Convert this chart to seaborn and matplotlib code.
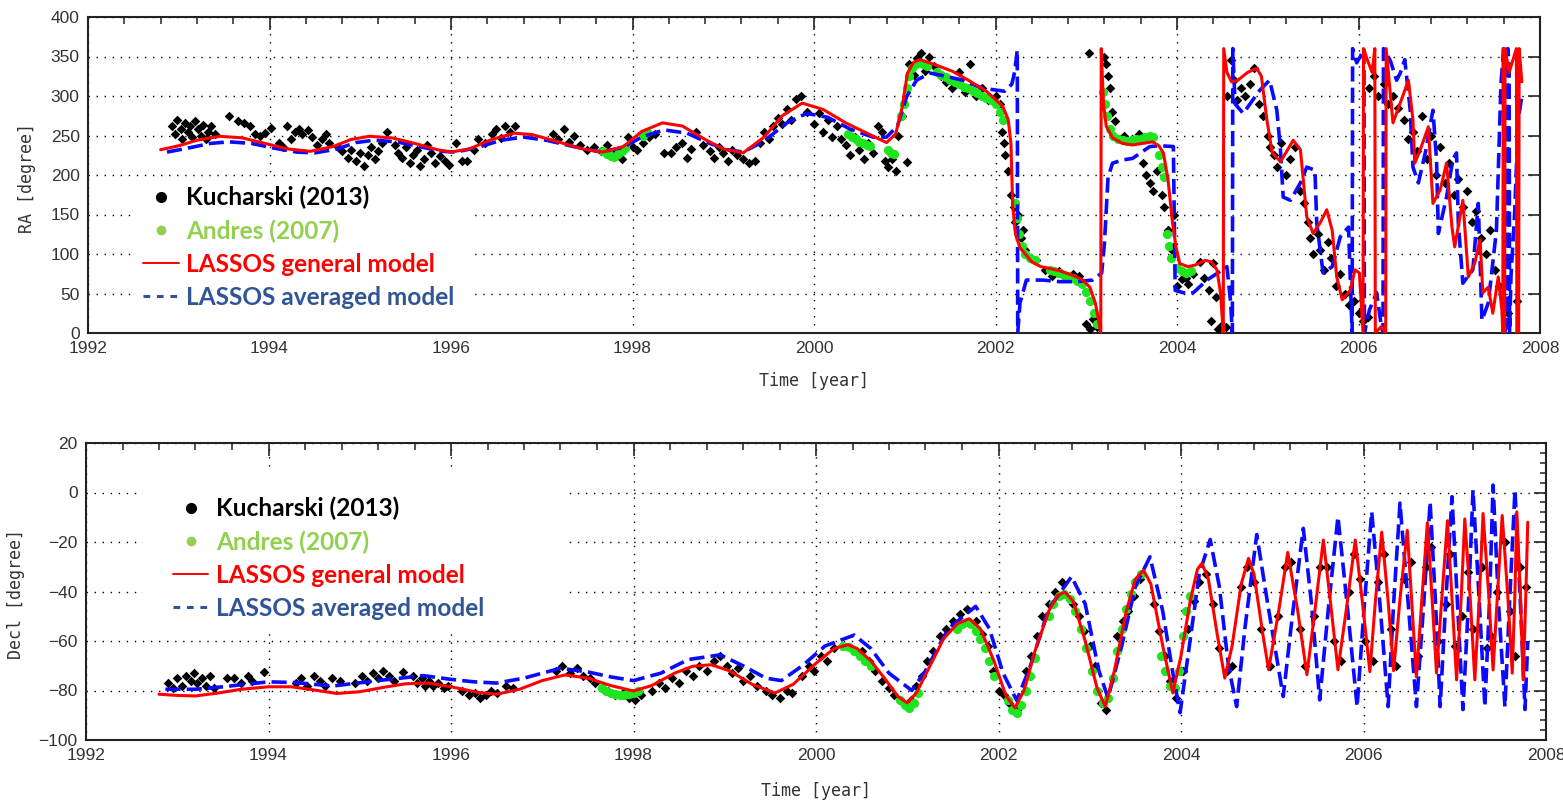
import seaborn as sns
import matplotlib.pyplot as plt
import matplotlib.ticker as mtick
from matplotlib.lines import Line2D
from matplotlib.patches import Rectangle
import pandas as pd

# ---- RA panel ----
ra_general = [
    (1992.80, 232), (1993.00, 237), (1993.20, 244), (1993.45, 249), (1993.70, 247), (1993.95, 240),
    (1994.20, 233), (1994.45, 230), (1994.70, 236), (1994.90, 245), (1995.10, 249), (1995.35, 247),
    (1995.60, 240), (1995.85, 232), (1996.00, 229), (1996.20, 233), (1996.45, 245), (1996.70, 253),
    (1996.90, 251), (1997.15, 243), (1997.45, 233), (1997.67, 229), (1997.90, 236), (1998.10, 255),
    (1998.33, 266), (1998.55, 262), (1998.80, 245), (1999.00, 233), (1999.22, 228), (1999.45, 248),
    (1999.65, 275), (1999.87, 291), (2000.10, 283), (2000.35, 266), (2000.60, 252), (2000.80, 241),
    (2000.90, 252), (2000.97, 285), (2001.03, 329), (2001.10, 343), (2001.17, 346), (2001.35, 339),
    (2001.53, 331), (2001.70, 320), (2001.90, 306), (2002.08, 287), (2002.14, 270), (2002.17, 240),
    (2002.19, 160), (2002.22, 125), (2002.27, 108), (2002.40, 90), (2002.50, 84), (2002.70, 79),
    (2002.85, 73), (2002.95, 68), (2003.04, 58), (2003.10, 38), (2003.13, 20), (2003.16, 0),
    (2003.165, 360), (2003.19, 290), (2003.22, 262), (2003.29, 247), (2003.40, 240), (2003.51, 238),
    (2003.62, 240), (2003.73, 242), (2003.80, 237), (2003.85, 228), (2003.90, 195), (2003.95, 140),
    (2003.99, 108), (2004.03, 88), (2004.12, 84), (2004.20, 86), (2004.31, 92), (2004.38, 90),
    (2004.44, 80), (2004.48, 50), (2004.51, 0), (2004.515, 360), (2004.55, 330), (2004.60, 318),
    (2004.67, 320), (2004.78, 330), (2004.88, 335), (2004.93, 325), (2004.99, 270), (2005.05, 228),
    (2005.14, 217), (2005.22, 232), (2005.28, 244), (2005.36, 232), (2005.43, 147), (2005.50, 126),
    (2005.58, 140), (2005.65, 156), (2005.71, 130), (2005.76, 71), (2005.82, 42), (2005.91, 54),
    (2005.96, 80), (2006.01, 76), (2006.05, 0), (2006.055, 360), (2006.10, 345), (2006.15, 330),
    (2006.18, 360), (2006.185, 0), (2006.25, 8), (2006.30, 0), (2006.305, 360), (2006.35, 303),
    (2006.38, 266), (2006.46, 291), (2006.55, 320), (2006.60, 270), (2006.62, 215), (2006.68, 232),
    (2006.77, 261), (2006.82, 164), (2006.90, 181), (2006.97, 215), (2007.03, 134), (2007.06, 109),
    (2007.15, 168), (2007.21, 71), (2007.28, 88), (2007.34, 118), (2007.37, 51), (2007.43, 58),
    (2007.48, 25), (2007.54, 71), (2007.58, 29), (2007.59, 0), (2007.595, 360), (2007.61, 0),
    (2007.615, 360), (2007.66, 330), (2007.70, 345), (2007.74, 360), (2007.745, 0), (2007.765, 0),
    (2007.77, 360), (2007.80, 318),
]

ra_averaged = [
    (1992.87, 229), (1993.10, 234), (1993.35, 240), (1993.55, 242), (1993.80, 240), (1994.05, 234),
    (1994.30, 229), (1994.50, 228), (1994.75, 233), (1994.95, 241), (1995.15, 244), (1995.40, 242),
    (1995.65, 236), (1995.90, 230), (1996.05, 229), (1996.30, 235), (1996.55, 244), (1996.80, 248),
    (1997.05, 244), (1997.35, 236), (1997.65, 229), (1997.90, 235), (1998.10, 248), (1998.35, 257),
    (1998.60, 253), (1998.85, 240), (1999.05, 232), (1999.22, 229), (1999.45, 243), (1999.70, 266),
    (1999.92, 278), (2000.15, 273), (2000.40, 258), (2000.65, 248), (2000.80, 248), (2000.92, 262),
    (2001.02, 299), (2001.13, 320), (2001.28, 329), (2001.45, 325), (2001.64, 320), (2001.85, 310),
    (2002.10, 306), (2002.18, 315), (2002.21, 330), (2002.24, 358), (2002.245, 0), (2002.27, 38),
    (2002.34, 67), (2002.52, 67), (2002.70, 65), (2002.90, 65), (2003.07, 67), (2003.17, 76),
    (2003.20, 113), (2003.24, 197), (2003.29, 215), (2003.40, 219), (2003.51, 221), (2003.70, 236),
    (2003.81, 237), (2003.96, 236), (2003.98, 54), (2004.10, 50), (2004.18, 51), (2004.33, 67),
    (2004.45, 76), (2004.55, 84), (2004.59, 40), (2004.61, 0), (2004.615, 360), (2004.64, 290),
    (2004.73, 278), (2004.91, 307), (2005.02, 320), (2005.10, 282), (2005.14, 232), (2005.17, 172),
    (2005.25, 168), (2005.36, 190), (2005.43, 210), (2005.52, 206), (2005.54, 139), (2005.61, 76),
    (2005.71, 84), (2005.80, 122), (2005.89, 134), (2005.93, 0), (2005.935, 360), (2005.98, 342),
    (2006.02, 350), (2006.06, 360), (2006.065, 0), (2006.12, 29), (2006.20, 51), (2006.25, 10),
    (2006.27, 0), (2006.275, 360), (2006.35, 345), (2006.42, 320), (2006.46, 329), (2006.51, 346),
    (2006.57, 282), (2006.60, 210), (2006.66, 190), (2006.74, 230), (2006.82, 282), (2006.86, 219),
    (2006.88, 126), (2006.97, 172), (2007.04, 220), (2007.08, 228), (2007.10, 139), (2007.15, 63),
    (2007.26, 80), (2007.32, 164), (2007.36, 16), (2007.43, 38), (2007.52, 130), (2007.57, 316),
    (2007.60, 360), (2007.605, 0), (2007.64, 10), (2007.645, 360), (2007.66, 340), (2007.665, 0),
    (2007.68, 71), (2007.72, 150), (2007.76, 270), (2007.80, 300),
]

ra_kucharski = [
    (1992.93, 262), (1992.96, 252), (1992.98, 270), (1993.02, 258), (1993.04, 245), (1993.07, 266),
    (1993.10, 255), (1993.12, 262), (1993.15, 248), (1993.18, 268), (1993.21, 258), (1993.24, 250),
    (1993.27, 263), (1993.30, 245), (1993.32, 255), (1993.36, 262), (1993.40, 252), (1993.55, 275),
    (1993.65, 268), (1993.72, 266), (1993.78, 262), (1993.84, 252), (1993.90, 250), (1993.95, 253),
    (1994.02, 260), (1994.10, 240), (1994.15, 235), (1994.19, 262), (1994.24, 245), (1994.28, 255),
    (1994.32, 258), (1994.36, 252), (1994.42, 257), (1994.47, 248), (1994.52, 238), (1994.58, 245),
    (1994.62, 252), (1994.66, 240), (1994.75, 235), (1994.80, 230), (1994.86, 222), (1994.90, 232),
    (1994.95, 218), (1995.00, 228), (1995.04, 212), (1995.08, 225), (1995.12, 235), (1995.16, 220),
    (1995.20, 230), (1995.24, 240), (1995.30, 254), (1995.38, 238), (1995.42, 228), (1995.46, 222),
    (1995.50, 235), (1995.55, 215), (1995.58, 225), (1995.62, 232), (1995.66, 212), (1995.70, 220),
    (1995.74, 238), (1995.78, 228), (1995.82, 215), (1995.88, 224), (1995.93, 218), (1995.98, 213),
    (1996.05, 240), (1996.12, 218), (1996.18, 218), (1996.25, 232), (1996.30, 245), (1996.38, 240),
    (1996.45, 252), (1996.50, 258), (1996.55, 247), (1996.60, 262), (1996.65, 255), (1996.70, 262),
    (1997.12, 252), (1997.18, 246), (1997.25, 258), (1997.30, 242), (1997.36, 250), (1997.42, 238),
    (1997.50, 232), (1997.58, 235), (1997.65, 230), (1997.72, 238), (1997.80, 226), (1997.88, 220),
    (1997.95, 248), (1998.00, 235), (1998.05, 232), (1998.12, 240), (1998.18, 248), (1998.25, 252),
    (1998.35, 228), (1998.42, 228), (1998.48, 235), (1998.55, 240), (1998.60, 222), (1998.65, 233),
    (1998.70, 255), (1998.78, 238), (1998.85, 230), (1998.90, 222), (1998.95, 235), (1999.00, 228),
    (1999.05, 218), (1999.10, 232), (1999.15, 225), (1999.22, 220), (1999.28, 215), (1999.35, 218),
    (1999.40, 240), (1999.45, 255), (1999.50, 245), (1999.55, 262), (1999.60, 272), (1999.65, 265),
    (1999.70, 283), (1999.75, 270), (1999.80, 296), (1999.86, 300), (1999.92, 280), (2000.00, 265),
    (2000.05, 278), (2000.10, 255), (2000.15, 270), (2000.20, 248), (2000.25, 262), (2000.30, 245),
    (2000.35, 238), (2000.40, 225), (2000.45, 248), (2000.50, 232), (2000.55, 220), (2000.60, 240),
    (2000.65, 228), (2000.70, 262), (2000.75, 255), (2000.78, 218), (2000.82, 210), (2000.86, 220),
    (2000.90, 205), (2000.93, 250), (2000.97, 275), (2001.02, 217), (2001.05, 340), (2001.10, 326),
    (2001.14, 348), (2001.18, 355), (2001.22, 332), (2001.27, 350), (2001.32, 338), (2001.40, 325),
    (2001.46, 318), (2001.52, 310), (2001.60, 330), (2001.66, 305), (2001.72, 340), (2001.78, 300),
    (2001.85, 310), (2001.92, 295), (2002.00, 300), (2002.05, 290), (2002.07, 255), (2002.09, 240),
    (2002.11, 225), (2002.14, 205), (2002.17, 175), (2002.20, 160), (2002.22, 140), (2002.25, 150),
    (2002.28, 120), (2002.30, 130), (2002.33, 105), (2002.38, 95), (2002.45, 92), (2002.55, 80),
    (2002.62, 72), (2002.70, 78), (2002.78, 70), (2002.85, 75), (2002.92, 72), (2003.00, 12),
    (2003.04, 5), (2003.07, 18), (2003.12, 8), (2003.03, 355), (2003.20, 350), (2003.22, 340),
    (2003.24, 325), (2003.26, 310), (2003.28, 280), (2003.32, 268), (2003.42, 250), (2003.50, 245),
    (2003.58, 252), (2003.62, 215), (2003.66, 200), (2003.70, 190), (2003.74, 180), (2003.78, 205),
    (2003.83, 175), (2003.86, 160), (2003.90, 130), (2003.94, 105), (2003.97, 150), (2004.00, 60),
    (2004.05, 68), (2004.10, 70), (2004.12, 62), (2004.18, 75), (2004.25, 90), (2004.30, 70),
    (2004.35, 55), (2004.40, 88), (2004.43, 45), (2004.38, 15), (2004.45, 5), (2004.50, 10),
    (2004.54, 8), (2004.55, 300), (2004.60, 345), (2004.63, 320), (2004.66, 295), (2004.70, 310),
    (2004.75, 300), (2004.80, 315), (2004.85, 335), (2004.90, 290), (2004.95, 275), (2005.00, 250),
    (2005.03, 235), (2005.07, 225), (2005.10, 210), (2005.15, 240), (2005.20, 200), (2005.25, 220),
    (2005.30, 235), (2005.35, 180), (2005.40, 165), (2005.44, 140), (2005.47, 120), (2005.50, 100),
    (2005.55, 125), (2005.58, 105), (2005.62, 80), (2005.66, 115), (2005.70, 95), (2005.75, 60),
    (2005.80, 75), (2005.85, 50), (2005.90, 35), (2005.95, 40), (2006.00, 25), (2006.05, 15),
    (2006.10, 20), (2006.12, 310), (2006.17, 325), (2006.22, 300), (2006.28, 315), (2006.32, 290),
    (2006.38, 300), (2006.44, 285), (2006.50, 270), (2006.55, 245), (2006.60, 255), (2006.65, 230),
    (2006.70, 275), (2006.75, 220), (2006.80, 250), (2006.85, 200), (2006.90, 235), (2006.95, 190),
    (2007.00, 215), (2007.05, 175), (2007.10, 195), (2007.15, 160), (2007.20, 180), (2007.25, 140),
    (2007.30, 155), (2007.35, 120), (2007.40, 100), (2007.45, 130), (2007.50, 80), (2007.55, 60),
    (2007.60, 40), (2007.65, 25), (2007.75, 40),
]

ra_andres = [
    (1997.68, 230), (1997.72, 226), (1997.76, 224), (1997.80, 223), (1997.84, 226), (1997.88, 230),
    (1997.92, 234), (1998.12, 250), (1998.16, 254),
    (2000.38, 252), (2000.42, 248), (2000.46, 245), (2000.50, 242), (2000.54, 240), (2000.58, 238),
    (2000.62, 237), (2000.82, 232), (2000.85, 228), (2000.88, 226),
    (2000.96, 275), (2000.99, 290), (2001.02, 310), (2001.05, 325), (2001.08, 335), (2001.12, 340),
    (2001.16, 342), (2001.20, 340), (2001.24, 338),
    (2001.35, 330), (2001.40, 327), (2001.45, 324), (2001.50, 320), (2001.55, 318), (2001.60, 315),
    (2001.65, 312), (2001.70, 310), (2001.75, 306), (2001.80, 304), (2001.85, 300), (2001.90, 298),
    (2001.95, 295), (2002.00, 290), (2002.05, 280), (2002.08, 270),
    (2002.22, 165), (2002.24, 145), (2002.26, 125), (2002.29, 110), (2002.33, 100), (2002.38, 95),
    (2002.43, 92),
    (2002.60, 80), (2002.65, 78), (2002.70, 76), (2002.75, 74), (2002.80, 72), (2002.85, 70),
    (2002.90, 66), (2002.95, 62), (2003.00, 52), (2003.04, 40), (2003.08, 25), (2003.12, 12),
    (2003.19, 305), (2003.21, 290), (2003.23, 275), (2003.26, 258), (2003.30, 250), (2003.35, 246),
    (2003.40, 244), (2003.45, 243), (2003.50, 244), (2003.55, 245), (2003.60, 246), (2003.65, 248),
    (2003.70, 250), (2003.74, 248),
    (2003.80, 225), (2003.83, 210), (2003.86, 198), (2003.89, 125), (2003.91, 110), (2003.93, 95),
    (2004.00, 82), (2004.05, 78), (2004.10, 76), (2004.15, 78),
]

# ---- Decl panel ----
dec_general = [
    (1992.80, -81.5), (1993.00, -82.0), (1993.20, -82.2), (1993.45, -81.0), (1993.70, -79.5),
    (1994.00, -78.5), (1994.25, -78.5), (1994.50, -79.8), (1994.75, -81.2), (1995.00, -80.5),
    (1995.25, -78.8), (1995.50, -77.3), (1995.75, -77.0), (1996.00, -78.5), (1996.30, -80.8),
    (1996.50, -81.5), (1996.75, -79.5), (1997.00, -76.0), (1997.25, -73.7), (1997.50, -75.0),
    (1997.75, -78.0), (1998.00, -80.2), (1998.20, -78.0), (1998.45, -73.0), (1998.65, -70.2),
    (1998.85, -69.6), (1999.05, -72.0), (1999.30, -77.5), (1999.55, -81.0), (1999.75, -77.5),
    (2000.00, -69.0), (2000.20, -63.0), (2000.35, -61.5), (2000.45, -63.0), (2000.60, -68.0),
    (2000.75, -75.0), (2000.90, -82.5), (2001.00, -85.0), (2001.10, -81.0), (2001.25, -70.0),
    (2001.40, -59.0), (2001.55, -53.0), (2001.68, -51.0), (2001.80, -55.0), (2001.95, -68.0),
    (2002.08, -82.0), (2002.18, -87.0), (2002.28, -80.0), (2002.40, -64.0), (2002.55, -48.0),
    (2002.65, -41.5), (2002.73, -40.3), (2002.82, -44.0), (2002.95, -60.0), (2003.08, -79.0),
    (2003.17, -86.5), (2003.27, -72.0), (2003.40, -48.0), (2003.50, -35.0), (2003.59, -31.4),
    (2003.67, -37.0), (2003.80, -62.0), (2003.91, -81.0), (2004.00, -66.0), (2004.10, -44.0),
    (2004.18, -31.0), (2004.23, -28.6), (2004.30, -35.0), (2004.40, -58.0), (2004.48, -75.0),
    (2004.56, -62.0), (2004.66, -37.0), (2004.74, -26.6), (2004.80, -33.0), (2004.90, -58.0),
    (2004.96, -71.6), (2005.07, -48.0), (2005.17, -24.2), (2005.28, -48.0), (2005.38, -73.6),
    (2005.47, -47.0), (2005.56, -19.2), (2005.64, -45.0), (2005.72, -71.6), (2005.82, -45.0),
    (2005.91, -19.2), (2005.99, -45.0), (2006.07, -72.4), (2006.13, -44.0), (2006.20, -16.0),
    (2006.27, -44.0), (2006.33, -72.0), (2006.40, -43.0), (2006.48, -15.3), (2006.53, -45.0),
    (2006.58, -74.5), (2006.64, -43.0), (2006.70, -12.2), (2006.75, -42.0), (2006.80, -72.9),
    (2006.86, -42.0), (2006.92, -11.4), (2006.97, -43.0), (2007.02, -75.7), (2007.07, -43.0),
    (2007.11, -10.7), (2007.17, -43.0), (2007.22, -75.7), (2007.27, -42.0), (2007.31, -8.5),
    (2007.37, -40.0), (2007.42, -71.7), (2007.47, -40.0), (2007.52, -9.3), (2007.58, -41.0),
    (2007.63, -73.0), (2007.66, -40.0), (2007.68, -7.8), (2007.72, -42.0), (2007.75, -75.7),
    (2007.78, -40.0), (2007.80, -12.0),
]

dec_averaged = [
    (1992.87, -79.5), (1993.20, -79.5), (1993.50, -78.5), (1994.00, -76.5), (1994.30, -76.8),
    (1994.70, -78.2), (1995.20, -76.0), (1995.70, -74.0), (1996.00, -75.5), (1996.25, -76.5),
    (1996.50, -77.0), (1996.80, -75.0), (1997.20, -71.0), (1997.50, -72.5), (1997.75, -74.5),
    (1998.00, -76.0), (1998.30, -73.0), (1998.60, -67.5), (1998.95, -65.6), (1999.20, -70.0),
    (1999.45, -75.0), (1999.62, -76.0), (1999.85, -70.0), (2000.10, -62.0), (2000.42, -57.6),
    (2000.60, -63.0), (2000.80, -73.0), (2001.05, -80.0), (2001.20, -72.0), (2001.45, -55.0),
    (2001.75, -46.0), (2001.90, -55.0), (2002.05, -73.0), (2002.20, -84.0), (2002.35, -70.0),
    (2002.55, -47.0), (2002.80, -34.0), (2002.95, -45.0), (2003.10, -72.0), (2003.20, -83.0),
    (2003.35, -62.0), (2003.50, -38.0), (2003.66, -26.0), (2003.80, -48.0), (2003.92, -75.0),
    (2003.99, -89.0), (2004.08, -65.0), (2004.20, -33.0), (2004.32, -19.0), (2004.42, -38.0),
    (2004.52, -70.0), (2004.61, -86.5), (2004.70, -55.0), (2004.83, -17.0), (2004.95, -45.0),
    (2005.12, -82.4), (2005.22, -50.0), (2005.34, -14.5), (2005.43, -45.0), (2005.52, -83.8),
    (2005.62, -45.0), (2005.72, -9.8), (2005.82, -45.0), (2005.93, -86.5), (2006.01, -45.0),
    (2006.09, -7.8), (2006.18, -45.0), (2006.27, -86.5), (2006.33, -45.0), (2006.40, -4.3),
    (2006.49, -45.0), (2006.58, -86.5), (2006.66, -45.0), (2006.73, -3.8), (2006.79, -45.0),
    (2006.84, -86.5), (2006.90, -45.0), (2006.97, -1.7), (2007.03, -45.0), (2007.09, -87.7),
    (2007.15, -45.0), (2007.20, 1.0), (2007.27, -45.0), (2007.33, -86.5), (2007.38, -45.0),
    (2007.42, 3.0), (2007.48, -45.0), (2007.55, -86.5), (2007.60, -45.0), (2007.66, 1.0),
    (2007.72, -45.0), (2007.77, -87.7), (2007.80, -60.0),
]

dec_kucharski = [
    (1992.90, -77), (1992.95, -79), (1993.00, -75), (1993.05, -78), (1993.10, -74), (1993.15, -76),
    (1993.18, -73), (1993.22, -77), (1993.27, -75), (1993.32, -78), (1993.36, -74), (1993.40, -79),
    (1993.55, -75), (1993.62, -75), (1993.70, -77), (1993.78, -74), (1993.82, -76), (1993.95, -72.5),
    (1994.30, -77), (1994.36, -75), (1994.42, -78), (1994.50, -74), (1994.56, -76), (1994.62, -78),
    (1994.70, -75), (1994.78, -76), (1994.95, -77), (1995.02, -74), (1995.08, -76), (1995.14, -73),
    (1995.20, -75), (1995.26, -72), (1995.32, -74), (1995.38, -76), (1995.47, -72.6), (1995.58, -74),
    (1995.63, -77), (1995.68, -75), (1995.72, -78), (1995.76, -76), (1995.80, -78), (1995.86, -77),
    (1995.92, -79), (1995.97, -78), (1996.12, -80), (1996.20, -82), (1996.26, -81), (1996.32, -83),
    (1996.38, -82), (1996.44, -80), (1996.50, -81), (1996.60, -78), (1996.68, -79), (1997.15, -72),
    (1997.22, -70), (1997.30, -73), (1997.38, -71), (1997.45, -74), (1997.52, -75), (1997.58, -77),
    (1997.65, -79), (1997.72, -80), (1997.80, -82), (1997.88, -81), (1997.95, -83), (1998.02, -84),
    (1998.08, -82), (1998.20, -80), (1998.28, -77), (1998.35, -79), (1998.42, -75), (1998.50, -77),
    (1998.58, -72), (1998.65, -74), (1998.72, -70), (1998.80, -72), (1998.88, -68), (1998.95, -66),
    (1999.02, -70), (1999.08, -73), (1999.14, -71), (1999.20, -76), (1999.28, -74), (1999.35, -78),
    (1999.45, -80), (1999.52, -82), (1999.60, -83), (1999.68, -80), (1999.74, -81), (1999.85, -74),
    (1999.92, -70), (1999.98, -72), (2000.05, -66), (2000.12, -68), (2000.20, -63), (2000.28, -62),
    (2000.50, -64), (2000.58, -68), (2000.65, -72), (2000.72, -76), (2000.80, -79), (2000.86, -82),
    (2000.92, -84), (2000.98, -86), (2001.04, -84), (2001.10, -78), (2001.16, -74), (2001.22, -68),
    (2001.28, -64), (2001.36, -58), (2001.42, -55), (2001.50, -52), (2001.58, -49), (2001.65, -47),
    (2001.75, -52), (2001.82, -57), (2001.88, -62), (2001.94, -72), (2002.00, -80), (2002.06, -82),
    (2002.12, -85), (2002.20, -88), (2002.30, -72), (2002.36, -66), (2002.42, -58), (2002.48, -50),
    (2002.55, -45), (2002.62, -40), (2002.70, -36), (2002.82, -45), (2002.88, -50), (2002.94, -56),
    (2003.00, -62), (2003.06, -70), (2003.12, -85), (2003.18, -88), (2003.30, -58), (2003.36, -52),
    (2003.42, -48), (2003.48, -42), (2003.55, -35), (2003.70, -45), (2003.76, -56), (2003.82, -66),
    (2003.88, -76), (2003.94, -83), (2004.02, -72), (2004.08, -55), (2004.14, -44), (2004.20, -36),
    (2004.27, -33), (2004.35, -45), (2004.42, -63), (2004.50, -72), (2004.56, -70), (2004.66, -38),
    (2004.72, -30), (2004.80, -36), (2004.88, -55), (2004.98, -70), (2005.06, -50), (2005.14, -30),
    (2005.20, -28), (2005.30, -55), (2005.36, -70), (2005.46, -50), (2005.52, -30), (2005.60, -30),
    (2005.68, -60), (2005.75, -68), (2005.84, -40), (2005.90, -25), (2005.96, -35), (2006.02, -60),
    (2006.10, -68), (2006.16, -36), (2006.22, -25), (2006.30, -55), (2006.36, -70), (2006.44, -35),
    (2006.52, -28), (2006.60, -66), (2006.68, -30), (2006.74, -22), (2006.82, -60), (2006.90, -45),
    (2006.95, -25), (2007.00, -62), (2007.08, -50), (2007.14, -32), (2007.20, -55), (2007.30, -30),
    (2007.35, -63), (2007.40, -58), (2007.46, -40), (2007.55, -20), (2007.60, -48), (2007.66, -66),
    (2007.72, -30), (2007.78, -38),
]

dec_andres = [
    (1997.65, -79), (1997.70, -80), (1997.75, -81), (1997.80, -81.5), (1997.85, -82), (1997.90, -82),
    (1997.95, -81.5), (1998.00, -81), (1998.05, -80),
    (2000.30, -62), (2000.36, -62.5), (2000.42, -64), (2000.48, -66), (2000.54, -68), (2000.60, -70),
    (2000.92, -84), (2000.97, -86), (2001.02, -87), (2001.07, -85), (2001.12, -81),
    (2001.55, -55), (2001.60, -53), (2001.65, -52.5), (2001.70, -53), (2001.75, -56), (2001.80, -59),
    (2001.85, -63), (2001.90, -68), (2001.95, -74),
    (2002.10, -84), (2002.15, -88), (2002.20, -89), (2002.25, -86), (2002.30, -80), (2002.35, -74),
    (2002.40, -67),
    (2002.55, -50), (2002.60, -45), (2002.66, -42), (2002.72, -41), (2002.78, -43), (2002.84, -48),
    (2002.90, -55), (2002.96, -63), (2003.02, -72), (2003.08, -80), (2003.14, -85),
    (2003.20, -83), (2003.25, -75), (2003.30, -64), (2003.35, -55), (2003.40, -47), (2003.45, -41),
    (2003.50, -36), (2003.56, -33),
    (2003.78, -66), (2003.83, -72), (2003.88, -78), (2003.93, -79), (2003.98, -72), (2004.02, -58),
    (2004.06, -48), (2004.10, -42),
]

legend_labels = ['Kucharski (2013)', 'Andres (2007)', 'LASSOS general model', 'LASSOS averaged model']
legend_colors = ['black', '#92d050', '#ff0000', '#2f5597']

sns.set_style('white')
plt.rcParams['font.family'] = ['Liberation Sans', 'DejaVu Sans']

fig = plt.figure(figsize=(15.63, 8), dpi=100)
ax1 = fig.add_axes([88 / 1563, 1 - 333 / 800, 1452 / 1563, 316 / 800])
ax2 = fig.add_axes([86 / 1563, 1 - 740 / 800, 1460 / 1563, 297 / 800])


def df(pairs):
    return pd.DataFrame(pairs, columns=['year', 'deg'])


def draw(ax, kuch, andres, avg, gen):
    sns.scatterplot(data=df(kuch), x='year', y='deg', marker='D', color='black', s=24,
                    linewidth=0, ax=ax, zorder=3)
    sns.scatterplot(data=df(andres), x='year', y='deg', marker='o', color='#1ee61e', s=44,
                    linewidth=0, ax=ax, zorder=4)
    sns.lineplot(data=df(avg), x='year', y='deg', color='#0a0aff', lw=2.6, sort=False,
                 estimator=None, linestyle=(0, (4.2, 1.7)), ax=ax, zorder=5)
    sns.lineplot(data=df(gen), x='year', y='deg', color='#ff0000', lw=2.2, sort=False,
                 estimator=None, ax=ax, zorder=6)

    ax.set_xlim(1992, 2008)
    ax.xaxis.set_major_locator(mtick.MultipleLocator(2))
    ax.xaxis.set_minor_locator(mtick.MultipleLocator(0.4))
    ax.tick_params(which='major', direction='in', length=9, width=1.2, top=True, right=True,
                   labelsize=12.5, labelcolor='#333333', pad=6, color='#222222')
    ax.tick_params(which='minor', direction='in', length=5, width=1.1, top=True, right=True,
                   color='#222222')
    ax.grid(True, which='major', linestyle=(0, (1, 4.8)), color='black', lw=1.0)
    ax.set_axisbelow(True)
    for s in ax.spines.values():
        s.set_color('#222222')
        s.set_linewidth(1.5)
    ax.set_xlabel('Time [year]', family='DejaVu Sans Mono', fontsize=12, color='#333333')


def add_legend(ax, x0, y0):
    handles = [
        Line2D([], [], marker='o', color='black', linestyle='none', markersize=7),
        Line2D([], [], marker='o', color='#92d050', linestyle='none', markersize=6),
        Line2D([], [], color='#ff0000', lw=1.4),
        Line2D([], [], color='#2f5597', lw=2.2, linestyle=(0, (2.2, 2.2))),
    ]
    ax.legend(handles, legend_labels, loc='upper left', bbox_to_anchor=(x0, y0),
              frameon=False, borderpad=0, borderaxespad=0, handlelength=1.45,
              handletextpad=0.3, labelspacing=0.41, labelcolor=legend_colors,
              prop={'family': 'Lato', 'weight': 'bold', 'size': 17.6})


# RA panel
draw(ax1, ra_kucharski, ra_andres, ra_averaged, ra_general)
ax1.set_ylim(0, 400)
ax1.yaxis.set_major_locator(mtick.MultipleLocator(50))
ax1.set_ylabel('RA [degree]', family='DejaVu Sans Mono', fontsize=12, color='#333333')
ax1.yaxis.set_label_coords(-0.036, 0.49)
ax1.xaxis.set_label_coords(0.5, -0.125)
ax1.add_patch(Rectangle((0.032, 0.0), 0.231, 0.49, transform=ax1.transAxes,
                        facecolor='white', edgecolor='none', zorder=1))
add_legend(ax1, 0.038, 0.466)

# Decl panel
draw(ax2, dec_kucharski, dec_andres, dec_averaged, dec_general)
ax2.set_ylim(-100, 20)
ax2.yaxis.set_major_locator(mtick.MultipleLocator(20))
ax2.yaxis.set_minor_locator(mtick.MultipleLocator(4))
ax2.tick_params(axis='y', which='minor', left=False, right=True, length=4)
ax2.set_ylabel('Decl [degree]', family='DejaVu Sans Mono', fontsize=12, color='#333333')
ax2.yaxis.set_label_coords(-0.042, 0.49)
ax2.xaxis.set_label_coords(0.5, -0.14)
ax2.add_patch(Rectangle((0.039, 0.377), 0.291, 0.539, transform=ax2.transAxes,
                        facecolor='white', edgecolor='none', zorder=1))
add_legend(ax2, 0.0596, 0.8195)

fig.savefig('out.png', dpi=100)
